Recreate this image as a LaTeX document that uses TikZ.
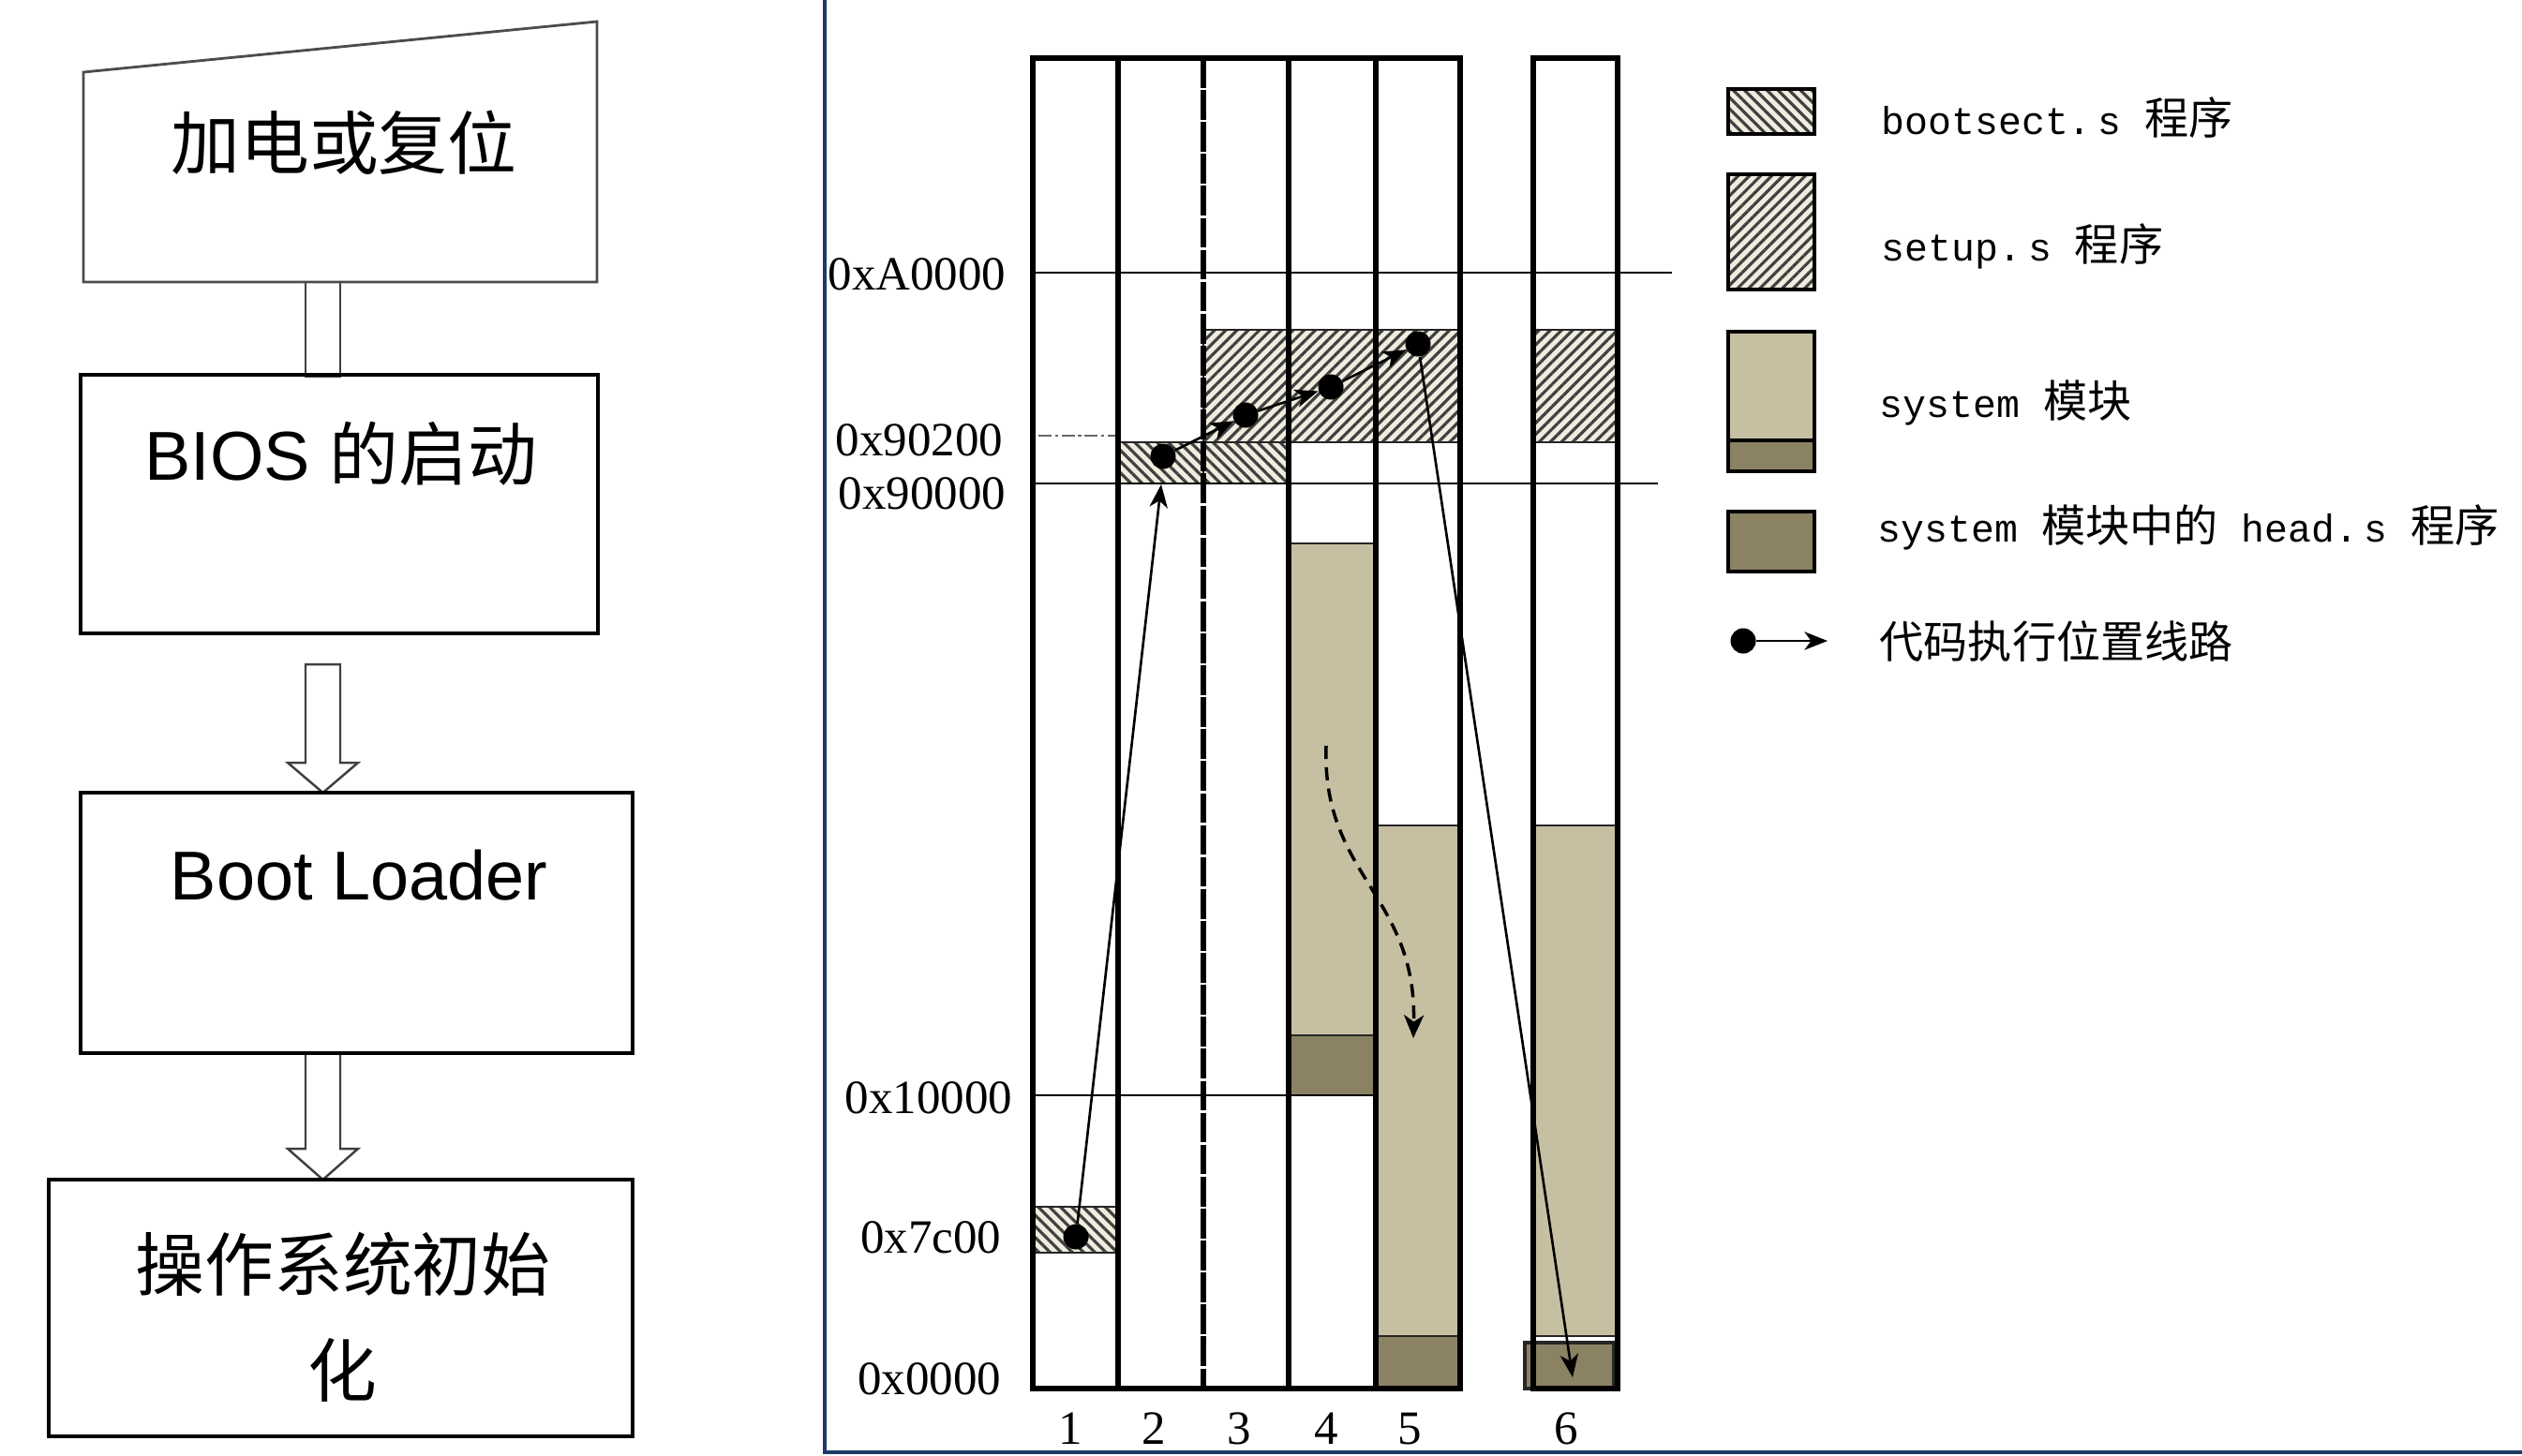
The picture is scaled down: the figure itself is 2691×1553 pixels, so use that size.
\documentclass[tikz,border=0pt]{standalone}
\usepackage{fontspec}
\setmainfont{Liberation Sans}
\newfontfamily\cjk{Noto Sans CJK SC}
\newfontfamily\monof{Liberation Mono}
\newfontfamily\serf{Liberation Serif}
\usetikzlibrary{patterns.meta,arrows.meta}
\definecolor{sysc}{RGB}{199,191,161}
\definecolor{headc}{RGB}{139,129,99}
\definecolor{hatchbg}{RGB}{240,236,222}
\definecolor{framec}{RGB}{30,58,100}
\newcommand\LM[1]{{\fontsize{11.8pt}{14pt}\monof #1}}
\newcommand\LC[1]{{\fontsize{13.4pt}{16pt}\cjk #1}}
\begin{document}
\begin{tikzpicture}[x=0.01cm,y=-0.01cm,
  trap/.style={draw=black!70,line width=0.8pt},
  boxline/.style={draw=black,line width=1.4pt},
  barrow/.style={draw=black!75,line width=0.7pt,fill=white},
  bigtxt/.style={inner sep=0pt,font=\fontsize{21pt}{32pt}\selectfont,align=center},
  colline/.style={draw=black,line width=1.5pt},
  hline/.style={draw=black,line width=0.8pt},
  blk/.style={draw=black!85,line width=0.6pt},
  bootsectfill/.style={preaction={fill=hatchbg},pattern={Lines[angle=-45,distance=2.4pt,line width=0.9pt]},pattern color=black!75},
  setupfill/.style={preaction={fill=hatchbg},pattern={Lines[angle=45,distance=2.4pt,line width=0.9pt]},pattern color=black!75},
  dotn/.style={circle,fill=black,inner sep=0pt,minimum size=0.27cm},
  exarr/.style={draw=black,line width=0.75pt,-{Stealth[length=7pt,width=5.5pt,inset=2pt]}},
  addr/.style={anchor=east,inner sep=0pt,font=\fontsize{14.5pt}{17pt}\serf},
  colnum/.style={inner sep=0pt,font=\fontsize{14.5pt}{17pt}\serf},
  legtxt/.style={anchor=west,inner sep=0pt}
]
\useasboundingbox (0,0) rectangle (2691,1553);

% ---------------- left flow chart ----------------
\draw[barrow] (326,296) rectangle (363,402);
\draw[barrow] (326,709) -- (363,709) -- (363,814) -- (382,814) -- (344.5,846) -- (307,814) -- (326,814) -- cycle;
\draw[barrow] (326,1124) -- (363,1124) -- (363,1226) -- (382,1226) -- (344.5,1259) -- (307,1226) -- (326,1226) -- cycle;

\draw[trap,fill=white] (89,77) -- (637,23) -- (637,301) -- (89,301) -- cycle;
\node[bigtxt] (t1) at (367,152) {\cjk 加电或复位};

\draw[boxline] (86,400) rectangle (638,676);
\node[bigtxt] (t2) at (364,484) {BIOS {\cjk 的启动}};

\draw[boxline] (86,846) rectangle (675,1124);
\node[bigtxt] (t3) at (383,934) {Boot Loader};

\draw[boxline] (52,1259) rectangle (675,1533);
\node[bigtxt] (t4) at (366,1349) {\cjk 操作系统初始};
\node[bigtxt] (t5) at (365,1462) {\cjk 化};

% ---------------- blue frame ----------------
\draw[framec,line width=1.1pt] (880,0) -- (880,1550) -- (2691,1550);

% ---------------- memory map blocks ----------------
\draw[blk,bootsectfill] (1102,1288) rectangle (1193,1337);
\draw[blk,bootsectfill] (1193,472) rectangle (1284,516);
\draw[blk,bootsectfill] (1284,472) rectangle (1375,516);
\draw[blk,setupfill] (1284,352) rectangle (1558,472);
\draw[blk,setupfill] (1636,352) rectangle (1726,472);

\draw[blk,fill=sysc] (1375,580) rectangle (1468,1105);
\draw[blk,fill=headc] (1375,1105) rectangle (1468,1169);
\draw[blk,fill=sysc] (1468,881) rectangle (1558,1426);
\draw[blk,fill=headc] (1468,1426) rectangle (1558,1482);
\draw[blk,fill=sysc] (1636,881) rectangle (1726,1426);
\draw[blk,fill=headc,line width=0.9pt] (1627,1433) rectangle (1722,1482);

% horizontal address lines
\draw[hline] (1102,291) -- (1784,291);
\draw[hline] (1102,516) -- (1769,516);
\draw[hline] (1102,1169) -- (1468,1169);
\draw[black!60,line width=0.6pt,dash pattern=on 4pt off 1pt on 1pt off 1pt] (1108,465) -- (1193,465);

% columns
\draw[colline] (1102,62) rectangle (1558,1482);
\draw[colline] (1193,62) -- (1193,1482);
\draw[colline,dash pattern=on 9pt off 0.7pt] (1284,62) -- (1284,1482);
\draw[colline] (1375,62) -- (1375,1482);
\draw[colline] (1468,62) -- (1468,1482);
\draw[colline] (1636,62) rectangle (1726,1482);

% address labels
\node[addr] (a1) at (1074,293) {0xA0000};
\node[addr] (a2) at (1071,470) {0x90200};
\node[addr] (a3) at (1074,527) {0x90000};
\node[addr] (a4) at (1081,1172) {0x10000};
\node[addr] (a5) at (1069,1321) {0x7c00};
\node[addr] (a6) at (1069,1472) {0x0000};

% column numbers
\node[colnum] (n1) at (1142,1525) {1};
\node[colnum] (n2) at (1231,1525) {2};
\node[colnum] (n3) at (1322,1525) {3};
\node[colnum] (n4) at (1415,1525) {4};
\node[colnum] (n5) at (1504,1525) {5};
\node[colnum] (n6) at (1671,1525) {6};

% execution path
\node[dotn] (D1) at (1148,1320) {};
\node[dotn] (D2) at (1241,487) {};
\node[dotn] (D3) at (1329,443) {};
\node[dotn] (D4) at (1420,413) {};
\node[dotn] (D5) at (1513,367) {};
\coordinate (E1) at (1239,517);
\coordinate (E5) at (1678,1470);
\draw[exarr] (D1) -- (E1);
\draw[exarr] (D2) -- (D3);
\draw[exarr] (D3) -- (D4);
\draw[exarr] (D4) -- (D5);
\draw[exarr] (D5) -- (E5);

% moving system (dashed curve)
\coordinate (M1) at (1415,796);
\coordinate (M2) at (1508,1108);
\draw[black,line width=1pt,dash pattern=on 4pt off 2.5pt,-{Stealth[length=7pt,width=6pt,inset=2pt]}] (M1) .. controls (1410,935) and (1512,955) .. (M2);

% ---------------- legend ----------------
\draw[line width=1pt,bootsectfill] (1844,95) rectangle (1936,143);
\draw[line width=1pt,setupfill] (1844,186) rectangle (1936,309);
\draw[line width=1pt,fill=sysc] (1844,354) rectangle (1936,470);
\draw[line width=1pt,fill=headc] (1844,470) rectangle (1936,503);
\draw[line width=1pt,fill=headc] (1844,546) rectangle (1936,610);
\node[dotn] (L1) at (1860,684) {};
\coordinate (L2) at (1950,684);
\draw[exarr] (L1) -- (L2);

\node[legtxt] (g1) at (2007,126) {\LM{bootsect.}\kern2pt\LM{s }\LC{程序}};
\node[legtxt] (g2) at (2007,263) {\LM{setup.}\kern2pt\LM{s }\LC{程序}};
\node[legtxt] (g3) at (2005,430) {\LM{system }\LC{模块}};
\node[legtxt] (g4) at (2003,563) {\LM{system }\LC{模块中的}\LM{ head.}\kern2pt\LM{s }\LC{程序}};
\node[legtxt] (g5) at (2005,684) {\LC{代码执行位置线路}};
\end{tikzpicture}
\end{document}
